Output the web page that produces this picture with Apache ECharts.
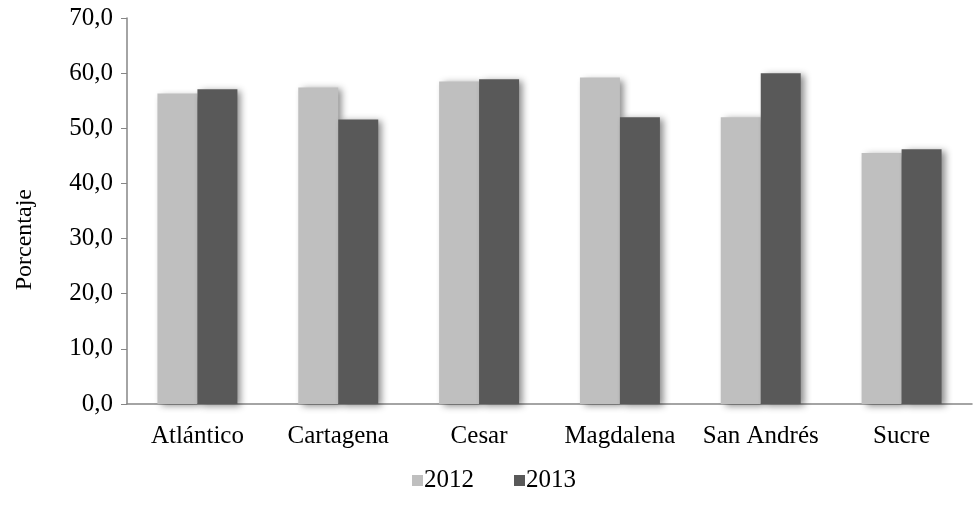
<!DOCTYPE html>
<html>
<head>
<meta charset="utf-8">
<script src="https://cdn.jsdelivr.net/npm/echarts@6/dist/echarts.min.js"></script>
<style>
  html, body { margin: 0; padding: 0; background: #fff; }
  #chart { width: 975px; height: 522px; }
</style>
</head>
<body>
<div id="chart"></div>
<script>
const categories = ["Atlántico", "Cartagena", "Cesar", "Magdalena", "San Andrés", "Sucre"];
const values2012 = [56.3, 57.4, 58.5, 59.2, 52.0, 45.5];
const values2013 = [57.1, 51.6, 58.9, 52.0, 60.0, 46.2];

const font = "'Liberation Serif', 'DejaVu Serif', serif";
const chartInstance = echarts.init(document.getElementById("chart"));

// sombra de las barras como en el original
const shadow = {
  shadowColor: "rgba(0,0,0,0.45)",
  shadowBlur: 7,
  shadowOffsetX: 4,
  shadowOffsetY: 2,
};

chartInstance.setOption({
  animation: false,
  textStyle: { fontFamily: font, color: "#000" },
  grid: { left: 127, right: 3, top: 18, bottom: 118 },
  legend: {
    top: 463,
    left: 407,
    itemWidth: 11,
    itemHeight: 11,
    itemGap: 40,
    icon: "rect",
    textStyle: { fontFamily: font, fontSize: 25, color: "#000", padding: [0, 0, 0, -4] },
    data: ["2012", "2013"],
  },
  // título del eje Y (Excel lo deja algo más abajo del centro)
  graphic: [
    {
      type: "text",
      left: 13,
      top: 189,
      rotation: Math.PI / 2,
      style: { text: "Porcentaje", fontFamily: font, fontSize: 24, fill: "#000" },
    },
  ],
  xAxis: {
    type: "category",
    data: categories,
    axisLine: { lineStyle: { color: "#868686", width: 1.5 } },
    axisTick: { show: false },
    axisLabel: { fontFamily: font, fontSize: 25, color: "#000", margin: 20, interval: 0 },
  },
  yAxis: {
    type: "value",
    min: 0,
    max: 70,
    interval: 10,
    axisLine: { show: true, lineStyle: { color: "#868686", width: 1.5 } },
    axisTick: { show: true, length: 6, lineStyle: { color: "#868686" } },
    splitLine: { show: false },
    axisLabel: {
      fontFamily: font,
      fontSize: 25,
      color: "#000",
      margin: 14,
      formatter: (v) => v.toFixed(1).replace(".", ","),
    },
  },
  series: [
    {
      name: "2012",
      type: "bar",
      data: values2012,
      barWidth: "28.4%",
      barGap: "0%",
      itemStyle: Object.assign({ color: "#BFBFBF" }, shadow),
    },
    {
      name: "2013",
      type: "bar",
      data: values2013,
      barWidth: "28.4%",
      itemStyle: Object.assign({ color: "#595959" }, shadow),
    },
  ],
});
</script>
</body>
</html>
